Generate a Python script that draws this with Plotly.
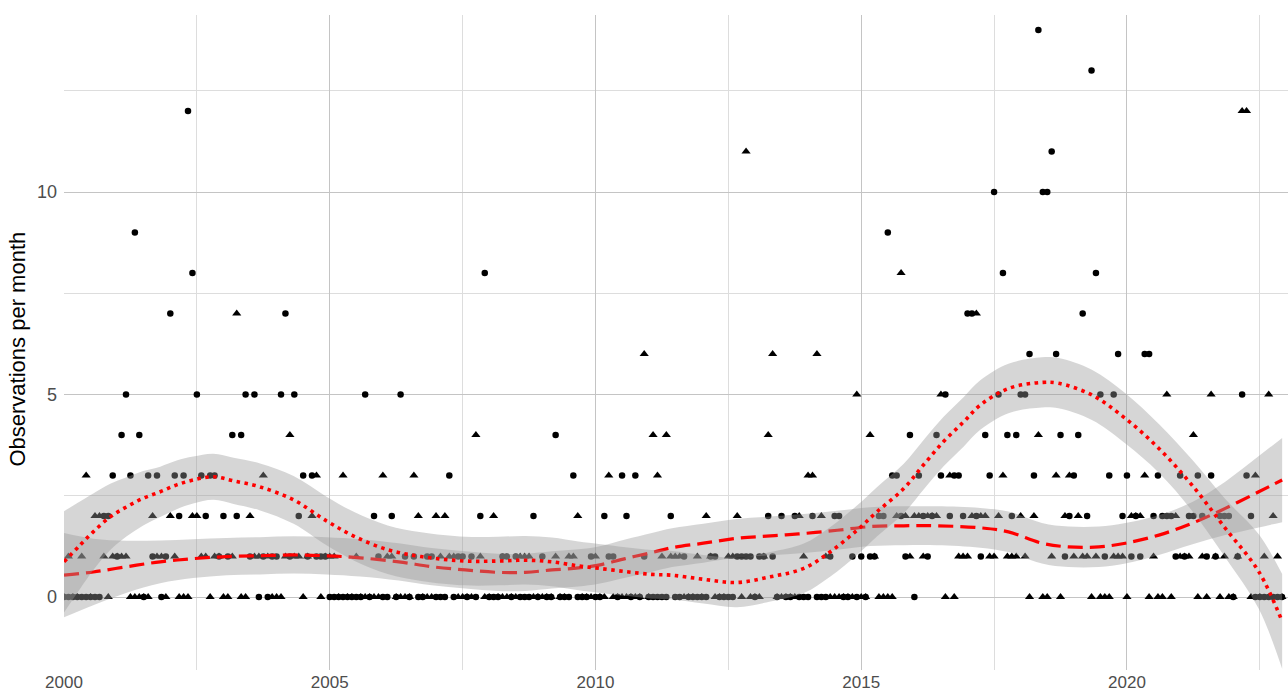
import numpy as np
import plotly.graph_objects as go

# Monthly observation counts, Jan 2000 - Dec 2022 (12 values per row)
circles = [
    0, 0, 0, 0, 0, 0, 0, 0, 0, 2, 2, 3,
    1, 4, 5, 3, 9, 4, 0, 3, 1, 3, 0, 1,
    7, 3, 2, 3, 12, 8, 5, 3, 2, 3, 3, 1,
    2, 1, 4, 2, 4, 5, 1, 5, 0, 1, 0, 1,
    1, 5, 7, 1, 5, 2, 3, 1, 3, 1, 1, 1,
    0, 0, 0, 0, 0, 0, 0, 0, 5, 0, 2, 1,
    0, 0, 2, 0, 5, 1, 0, 1, 0, 0, 1, 1,
    0, 0, 0, 3, 0, 1, 1, 0, 1, 0, 2, 8,
    0, 0, 0, 1, 1, 0, 1, 0, 0, 0, 2, 0,
    1, 0, 0, 4, 0, 0, 0, 3, 0, 0, 0, 1,
    0, 0, 2, 1, 1, 0, 3, 2, 0, 3, 0, 1,
    0, 0, 0, 0, 0, 2, 0, 0, 1, 0, 0, 0,
    0, 0, 1, 1, 0, 0, 0, 0, 1, 1, 1, 1,
    0, 1, 1, 2, 1, 0, 2, 0, 0, 2, 0, 0,
    0, 2, 0, 0, 0, 1, 2, 2, 0, 0, 1, 0,
    1, 0, 1, 1, 2, 2, 9, 3, 3, 2, 1, 4,
    0, 3, 2, 1, 2, 4, 3, 5, 2, 3, 3, 2,
    7, 7, 2, 1, 4, 3, 10, 5, 8, 4, 2, 4,
    5, 5, 6, 3, 14, 10, 10, 11, 6, 4, 1, 2,
    3, 4, 7, 2, 13, 8, 5, 1, 3, 5, 6, 2,
    3, 1, 2, 1, 6, 6, 2, 3, 2, 2, 2, 1,
    3, 1, 2, 2, 3, 2, 1, 3, 1, 2, 2, 2,
    0, 1, 5, 3, 2, 0, 0, 0, 0, 0, 0, 0,
]

triangles = [
    0, 1, 0, 0, 1, 3, 0, 2, 2, 1, 0, 1,
    1, 1, 1, 0, 0, 0, 0, 0, 2, 1, 1, 0,
    2, 1, 0, 0, 0, 2, 2, 1, 1, 0, 1, 1,
    0, 0, 1, 7, 0, 0, 2, 1, 1, 3, 1, 0,
    0, 0, 1, 4, 1, 1, 0, 1, 2, 3, 0, 1,
    1, 1, 0, 3, 0, 0, 1, 0, 0, 0, 0, 0,
    3, 1, 1, 0, 0, 0, 0, 3, 2, 0, 0, 0,
    2, 1, 2, 1, 1, 0, 0, 0, 0, 4, 1, 0,
    0, 2, 0, 0, 0, 0, 0, 1, 1, 1, 0, 0,
    0, 0, 0, 1, 0, 0, 1, 1, 2, 0, 0, 0,
    1, 0, 0, 3, 0, 0, 0, 0, 0, 0, 0, 6,
    0, 4, 3, 1, 4, 1, 1, 1, 0, 0, 0, 1,
    0, 2, 1, 0, 0, 0, 1, 1, 2, 0, 11, 0,
    0, 0, 1, 4, 6, 0, 0, 0, 0, 0, 2, 1,
    3, 3, 6, 2, 1, 0, 0, 0, 0, 0, 0, 5,
    0, 0, 4, 1, 0, 0, 0, 0, 2, 8, 2, 1,
    2, 2, 1, 2, 2, 2, 5, 0, 3, 0, 1, 1,
    1, 2, 7, 2, 2, 1, 1, 2, 3, 1, 1, 1,
    2, 1, 0, 2, 4, 0, 0, 1, 3, 0, 2, 3,
    1, 2, 1, 1, 0, 1, 0, 0, 0, 1, 1, 1,
    0, 2, 2, 2, 3, 0, 1, 0, 0, 5, 0, 2,
    1, 1, 1, 4, 0, 1, 0, 5, 1, 0, 1, 0,
    0, 1, 12, 12, 0, 3, 0, 1, 5, 2, 1, 0,
]

# Smoothed trend for the circle series: position, fitted value, 95% half-width
circ_fit_x = [2000.0, 2000.3, 2000.55, 2000.87, 2001.18, 2001.49, 2001.81, 2002.12,
              2002.43, 2002.81, 2003.19, 2003.69, 2004.32, 2004.94, 2005.46, 2006.09,
              2006.72, 2007.55, 2008.17, 2008.68, 2009.18, 2009.68, 2010.06, 2010.56,
              2011.06, 2011.44, 2012.03, 2012.66, 2013.29, 2013.92, 2014.42, 2014.92,
              2015.3, 2015.8, 2016.17, 2016.55, 2016.93, 2017.24, 2017.77, 2018.4,
              2018.71, 2019.34, 2019.97, 2020.6, 2021.22, 2021.85, 2022.48, 2022.92]
circ_fit_y = [0.87, 1.28, 1.61, 1.98, 2.23, 2.44, 2.6, 2.77,
              2.89, 2.97, 2.87, 2.72, 2.4, 1.88, 1.5, 1.17,
              1.0, 0.89, 0.89, 0.91, 0.87, 0.77, 0.71, 0.63,
              0.56, 0.54, 0.44, 0.36, 0.5, 0.71, 1.12, 1.65,
              2.11, 2.68, 3.26, 3.84, 4.33, 4.74, 5.15, 5.3,
              5.28, 4.99, 4.41, 3.67, 2.77, 1.7, 0.63, -0.6]
circ_fit_hw = [1.25, 1.08, 0.95, 0.82, 0.73, 0.67, 0.62, 0.6,
               0.58, 0.57, 0.57, 0.58, 0.59, 0.6, 0.6, 0.6,
               0.6, 0.6, 0.6, 0.6, 0.6, 0.6, 0.6, 0.6,
               0.6, 0.6, 0.6, 0.61, 0.61, 0.61, 0.61, 0.61,
               0.61, 0.61, 0.61, 0.61, 0.61, 0.61, 0.61, 0.62,
               0.62, 0.62, 0.62, 0.6, 0.63, 0.72, 0.92, 1.17]

# Smoothed trend for the triangle series
tri_fit_x = [2000.0, 2000.55, 2001.18, 2001.81, 2002.43, 2003.06, 2003.69, 2004.32,
             2004.94, 2005.57, 2006.3, 2006.92, 2007.55, 2008.17, 2008.68, 2009.18,
             2009.68, 2010.06, 2010.56, 2011.06, 2011.44, 2012.03, 2012.66, 2013.29,
             2013.92, 2014.55, 2015.17, 2015.8, 2016.42, 2017.24, 2017.77, 2018.4,
             2018.9, 2019.47, 2019.97, 2020.6, 2021.22, 2021.85, 2022.48, 2022.92]
tri_fit_y = [0.54, 0.62, 0.75, 0.87, 0.95, 1.0, 1.02, 1.04,
             1.02, 0.97, 0.87, 0.75, 0.67, 0.61, 0.61, 0.67,
             0.72, 0.79, 0.95, 1.1, 1.22, 1.33, 1.45, 1.51,
             1.57, 1.65, 1.74, 1.76, 1.76, 1.71, 1.61, 1.33,
             1.24, 1.24, 1.33, 1.53, 1.82, 2.19, 2.6, 2.89]
tri_fit_hw = [1.04, 0.82, 0.64, 0.53, 0.48, 0.46, 0.46, 0.46,
              0.46, 0.46, 0.46, 0.46, 0.46, 0.46, 0.46, 0.46,
              0.46, 0.46, 0.47, 0.48, 0.48, 0.48, 0.48, 0.48,
              0.48, 0.48, 0.48, 0.48, 0.48, 0.49, 0.5, 0.5,
              0.5, 0.5, 0.5, 0.49, 0.52, 0.66, 0.88, 1.04]

month_pos = 2000 + np.arange(len(circles)) / 12

year_ticks = [2000, 2005, 2010, 2015, 2020]
year_minor = [2002.5, 2007.5, 2012.5, 2017.5, 2022.5]
count_ticks = [0, 5, 10]
count_minor = [2.5, 7.5, 12.5]

RIBBON = "rgba(153,153,153,0.4)"
RED = "#ff0000"

fig = go.Figure()

fig.add_trace(go.Scatter(
    x=month_pos, y=circles, mode="markers",
    marker=dict(symbol="circle", size=6.5, color="black", line=dict(width=0)),
    hoverinfo="skip"))
fig.add_trace(go.Scatter(
    x=month_pos, y=triangles, mode="markers",
    marker=dict(symbol="triangle-up", size=8, color="black", line=dict(width=0)),
    hoverinfo="skip"))


def add_smooth(x, y, hw, dash, width):
    upper = [a + b for a, b in zip(y, hw)]
    lower = [a - b for a, b in zip(y, hw)]
    fig.add_trace(go.Scatter(
        x=x, y=lower, mode="lines",
        line=dict(width=0, shape="spline", color="rgba(0,0,0,0)"),
        hoverinfo="skip"))
    fig.add_trace(go.Scatter(
        x=x, y=upper, mode="lines", fill="tonexty", fillcolor=RIBBON,
        line=dict(width=0, shape="spline", color="rgba(0,0,0,0)"),
        hoverinfo="skip"))
    fig.add_trace(go.Scatter(
        x=x, y=y, mode="lines",
        line=dict(color=RED, width=width, dash=dash, shape="spline"),
        hoverinfo="skip"))


add_smooth(tri_fit_x, tri_fit_y, tri_fit_hw, "15px,7px", 3.2)
add_smooth(circ_fit_x, circ_fit_y, circ_fit_hw, "3.5px,4.5px", 3.6)

axis_font = dict(family="Liberation Sans, Arial, sans-serif", size=17, color="#4d4d4d")

fig.update_layout(
    width=1288, height=692,
    margin=dict(l=64, r=0, t=15, b=22, autoexpand=False),
    paper_bgcolor="white", plot_bgcolor="white",
    showlegend=False,
    xaxis=dict(
        range=[2000, 2023.03], automargin=False,
        tickvals=year_ticks, ticktext=[str(v) for v in year_ticks],
        showgrid=True, gridcolor="#c4c4c4", gridwidth=1.4,
        minor=dict(tickvals=year_minor, showgrid=True, gridcolor="#dddddd", gridwidth=1),
        zeroline=False, showline=False, ticks="",
        tickfont=axis_font, ticklabelstandoff=0,
    ),
    yaxis=dict(
        range=[-1.8, 14.37], automargin=False,
        tickvals=count_ticks, ticktext=[str(v) for v in count_ticks],
        showgrid=True, gridcolor="#c4c4c4", gridwidth=1.4,
        minor=dict(tickvals=count_minor, showgrid=True, gridcolor="#dddddd", gridwidth=1),
        zeroline=False, showline=False, ticks="",
        tickfont=dict(family="Liberation Sans, Arial, sans-serif", size=18, color="#4d4d4d"),
        ticklabelstandoff=6,
    ),
    annotations=[dict(
        text="Observations per month",
        xref="paper", yref="paper", x=-0.038, y=0.49,
        xanchor="center", yanchor="middle", textangle=-90, showarrow=False,
        font=dict(family="Liberation Sans, Arial, sans-serif", size=22, color="black"),
    )],
)

fig.write_html("out.html")
